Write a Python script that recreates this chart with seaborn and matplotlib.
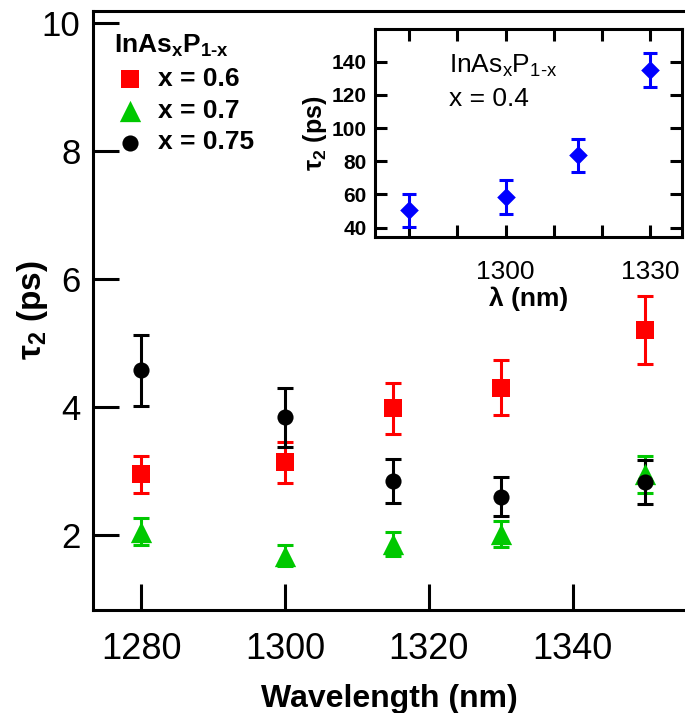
import numpy as np
import pandas as pd
import matplotlib
matplotlib.use("Agg")
import matplotlib.pyplot as plt
import seaborn as sns

# main panel data
wl = [1280, 1300, 1315, 1330, 1350]
tau_06 = [2.95, 3.14, 3.98, 4.30, 5.20]
err_06 = [0.29, 0.32, 0.40, 0.43, 0.53]
tau_07 = [2.05, 1.68, 1.86, 2.02, 2.95]
err_07 = [0.21, 0.17, 0.18, 0.20, 0.29]
tau_075 = [4.57, 3.84, 2.84, 2.60, 2.83]
err_075 = [0.55, 0.46, 0.34, 0.31, 0.34]

# inset data, x = 0.4
wl_in = [1280, 1300, 1315, 1330]
tau_04 = [50.5, 58.5, 83.5, 135.0]
err_04 = [10.0, 10.0, 10.0, 10.5]

sns.set_style("ticks")
plt.rcParams['font.family'] = ['Liberation Sans', 'DejaVu Sans']
plt.rcParams['mathtext.fontset'] = 'custom'
plt.rcParams['mathtext.rm'] = 'Liberation Sans'
plt.rcParams['mathtext.it'] = 'Liberation Sans:italic'
plt.rcParams['mathtext.bf'] = 'Liberation Sans:bold'
for k in ['text.color', 'axes.labelcolor', 'xtick.color', 'ytick.color',
          'axes.edgecolor']:
    plt.rcParams[k] = 'black'

fig = plt.figure(figsize=(6.85, 7.13), dpi=100)
ax = fig.add_axes([0.1358, 0.1445, 0.8642, 0.8400])

series = [
    ("x = 0.6", tau_06, err_06, "#ff0000", "s", 150),
    ("x = 0.7", tau_07, err_07, "#00c800", "^", 235),
    ("x = 0.75", tau_075, err_075, "#000000", "o", 135),
]
for lab, y, e, c, m, s in series:
    ax.errorbar(wl, y, yerr=e, fmt="none", ecolor=c, elinewidth=2.2,
                capsize=6, capthick=2.2, zorder=2)
    df = pd.DataFrame({"wl": wl, "tau": y})
    sns.scatterplot(data=df, x="wl", y="tau", ax=ax, color=c, marker=m,
                    s=s, linewidth=0, label=lab, zorder=3)

ax.set_xlim(1273.3, 1355.6)
ax.set_ylim(0.83, 10.18)
ax.set_xticks([1280, 1300, 1320, 1340])
ax.set_yticks([2, 4, 6, 8, 10])
ax.tick_params(direction="in", length=19, width=2.2, labelsize=25)
ax.tick_params(axis="x", pad=16, labelsize=26)
ax.tick_params(axis="y", pad=9)
for sp in ["left", "bottom", "top"]:
    ax.spines[sp].set_linewidth(2.2)
ax.spines["right"].set_visible(False)
ax.set_xlabel("Wavelength (nm)", fontsize=23, fontweight="bold", labelpad=12)
ax.set_ylabel("τ$_\\mathbf{2}$ (ps)", fontsize=24, fontweight="bold")
ax.yaxis.set_label_coords(-0.072, 0.5)

leg = ax.legend(loc="upper left", bbox_to_anchor=(0.005, 0.995), frameon=False,
                title="InAs$_\\mathbf{x}$P$_\\mathbf{1\u2010x}$", alignment="left",
                prop={"size": 19, "weight": "bold"}, handletextpad=0.45,
                labelspacing=0.3, borderpad=0.2, handlelength=1.2)
leg.get_title().set_fontsize(19)
leg.get_title().set_fontweight("bold")

# inset
axi = fig.add_axes([0.5474, 0.6672, 0.4482, 0.2921])
axi.errorbar(wl_in, tau_04, yerr=err_04, fmt="none", ecolor="#0000ff",
             elinewidth=2.2, capsize=5, capthick=2.2, zorder=2)
df_in = pd.DataFrame({"wl": wl_in, "tau": tau_04})
sns.scatterplot(data=df_in, x="wl", y="tau", ax=axi, color="#0000ff",
                marker="D", s=90, linewidth=0, zorder=3, legend=False)
axi.set_xlim(1272.9, 1336.6)
axi.set_ylim(34.2, 159.7)
axi.set_xticks([1300, 1330])
axi.set_xticks([1280, 1290, 1310, 1320], minor=True)
axi.set_yticks([40, 60, 80, 100, 120, 140])
axi.tick_params(which="both", direction="in", length=8.5, width=2.2,
                top=True, right=True)
axi.tick_params(axis="x", labelsize=19, pad=16)
axi.tick_params(axis="y", labelsize=15, pad=6)
for t in axi.get_yticklabels():
    t.set_fontweight("bold")
for sp in axi.spines.values():
    sp.set_linewidth(2.2)
axi.set_xlabel("λ (nm)", fontsize=19, fontweight="bold", labelpad=2)
axi.set_ylabel("τ$_\\mathbf{2}$ (ps)", fontsize=18, fontweight="bold", labelpad=2)
axi.text(0.24, 0.885, "InAs$_\\mathrm{x}$P$_\\mathrm{1\u2010x}$\nx = 0.4",
         transform=axi.transAxes, fontsize=19, va="top", ha="left",
         linespacing=1.4)

fig.savefig("out.png", dpi=100)
